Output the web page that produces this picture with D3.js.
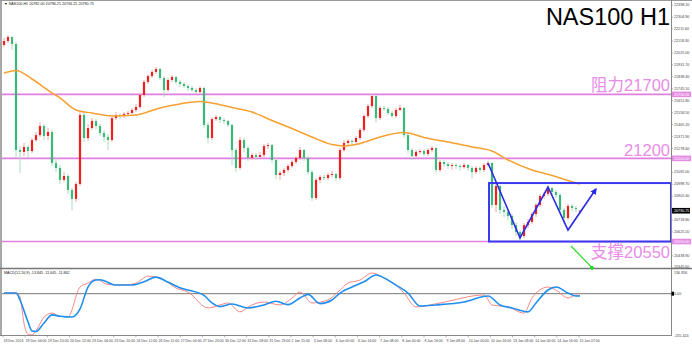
<!DOCTYPE html>
<html><head><meta charset="utf-8">
<script src="https://cdn.jsdelivr.net/npm/d3@7"></script>
<style>
body{margin:0;background:#fff;}
svg{display:block;font-family:"Liberation Sans",Arial,"Noto Sans CJK SC",sans-serif;}
</style>
</head><body>
<svg id="c" width="692" height="346"></svg>
<script>
// ---------- DATA ----------
const openP=[22086,22117,22148,22094,21265,21250,21289,21257,21343,21382,21453,21375,21406,21164,21125,21031,21062,20953,20883,21000,
21539,21359,21437,21492,21453,21398,21367,21343,21515,21539,21531,21547,21554,21578,21601,21695,21797,21843,21875,21898,
21828,21734,21812,21836,21797,21781,21765,21750,21734,21718,21750,21461,21359,21507,21523,21500,21492,21461,21265,21125,
21343,21281,21203,21226,21211,21226,21296,21304,21187,21070,21086,21109,21140,21172,21203,21265,21203,21093,20890,21031,
21054,21046,21070,21078,21046,21265,21320,21336,21328,21359,21422,21531,21609,21687,21515,21594,21586,21554,21531,21578,
21594,21382,21265,21218,21250,21257,21234,21265,21281,21109,21172,21156,21140,21148,21140,21132,21148,21125,21093,21125,
21109,21148,21164,20836,20984,20797,20781,20750,20679,20625,20593,20679,20703,20765,20836,20906,20922,20968,20937,20914,
20797,20734,20828,20812,20782];
const highP=[22140,22164,22156,22109,21296,21320,21304,21359,21406,21484,21468,21437,21422,21203,21148,21093,21078,20968,21015,21562,
21554,21468,21515,21507,21468,21422,21390,21531,21562,21554,21562,21570,21594,21625,21711,21812,21859,21890,21914,21906,
21843,21828,21851,21843,21812,21797,21781,21765,21750,21765,21758,21484,21523,21539,21531,21515,21500,21468,21281,21367,
21359,21296,21242,21242,21250,21312,21320,21312,21203,21101,21125,21156,21187,21218,21289,21273,21218,21109,21046,21070,
21070,21086,21101,21086,21281,21343,21351,21351,21375,21437,21547,21625,21703,21695,21609,21609,21601,21570,21594,21617,
21601,21398,21281,21265,21273,21273,21281,21296,21289,21187,21187,21172,21164,21164,21156,21164,21156,21140,21140,21140,
21164,21179,21172,21007,20992,20828,20797,20765,20703,20640,20695,20726,20781,20851,20922,20937,20984,20976,20953,20929,
20812,20843,20843,20828,20796.25];
const lowP=[22070,22101,22047,21203,21086,21218,21203,21242,21328,21367,21343,21343,21140,21093,21000,21015,20922,20797,20859,20984,
21328,21336,21422,21422,21375,21328,21265,21328,21500,21507,21515,21531,21547,21562,21586,21679,21781,21828,21859,21812,
21679,21718,21797,21781,21758,21750,21726,21718,21703,21711,21437,21320,21343,21492,21476,21468,21445,21148,21093,21109,
21250,21179,21187,21187,21203,21211,21273,21164,21039,21031,21062,21093,21125,21156,21187,21179,21070,20867,20875,21007,
21031,21031,21054,21023,21031,21250,21296,21304,21312,21343,21406,21515,21594,21484,21500,21570,21539,21515,21515,21570,
21359,21242,21187,21203,21234,21218,21218,21250,21086,21093,21132,21117,21109,21117,21101,21117,21101,21046,21078,21086,
21093,21132,20812,20781,20765,20742,20718,20648,20593,20562,20578,20656,20687,20742,20820,20883,20906,20914,20890,20773,
20687,20718,20789,20781,20766.25];
const closeP=[22117,22148,22094,21265,21250,21289,21257,21343,21382,21453,21375,21406,21164,21125,21031,21062,20953,20883,21000,21539,
21359,21437,21492,21453,21398,21367,21343,21515,21539,21531,21547,21554,21578,21601,21695,21797,21843,21875,21898,21828,
21734,21812,21836,21797,21781,21765,21750,21734,21718,21750,21461,21359,21507,21523,21500,21492,21461,21265,21125,21343,
21281,21203,21226,21211,21226,21296,21304,21187,21070,21086,21109,21140,21172,21203,21265,21203,21093,20890,21031,21054,
21046,21070,21078,21046,21265,21320,21336,21328,21359,21422,21531,21609,21687,21515,21594,21586,21554,21531,21578,21594,
21382,21265,21218,21250,21257,21234,21265,21281,21109,21172,21156,21140,21148,21140,21132,21148,21125,21093,21125,21109,
21148,21164,20836,20984,20797,20781,20750,20679,20625,20593,20679,20703,20765,20836,20906,20922,20968,20937,20914,20797,
20734,20828,20812,20804,20790.75];

// moving average: [bar index, value]
const maLine=[[0,21867],[3,21887],[7,21820],[12,21711],[14,21672],[18,21578],[22,21554],[27,21531],[33,21539],[39,21594],
[44,21625],[49,21644],[52,21633],[57,21597],[62,21562],[67,21496],[72,21433],[77,21367],[82,21308],[85,21297],[88,21308],
[91,21336],[94,21367],[100,21402],[105,21363],[111,21328],[117,21289],[122,21257],[126,21187],[132,21109],[137,21066],
[141,21027],[144,21000]];

// MACD lines: [bar index, value]
const macdBlue=[[0,4],[3,4],[4,-38],[6,-170],[7,-225],[8,-228],[10,-177],[12,-128],[14,-136],[17,-141],[19,-92],[21,40],
[23,83],[24,84],[28,52],[32,52],[35,72],[38,100],[41,70],[44,36],[46,22],[50,-10],[52,-56],[54,-78],[57,-62],[61,-86],
[65,-68],[68,-46],[71,-66],[74,-26],[76,-4],[79,-60],[82,-38],[84,4],[87,40],[90,72],[93,113],[96,82],[98,52],[101,4],
[104,-74],[108,-68],[115,-50],[121,-14],[124,-68],[127,-86],[131,-110],[133,-56],[136,22],[138,40],[141,4],[143,-14],[144,-14]];
const macdRed=[[0,4],[3,4],[4,-20],[5,-180],[6,-245],[7,-249],[8,-225],[10,-141],[12,-117],[14,-137],[16,-139],[19,40],
[21,64],[23,88],[26,55],[30,52],[33,64],[36,106],[40,82],[43,34],[46,10],[51,-86],[54,-68],[56,-56],[59,-110],[61,-80],
[65,-50],[69,-68],[72,-26],[74,10],[77,-56],[81,-38],[84,22],[86,64],[89,82],[92,125],[95,94],[98,52],[100,4],[103,-80],
[109,-56],[120,-8],[122,-68],[126,-80],[130,-117],[132,-26],[136,40],[138,22],[141,-26],[143,-8],[144,-12]];

const priceTicks=[20345.60,20438.90,20532.20,20625.50,20718.80,20812.10,20905.40,20998.70,21092.00,21185.30,21278.60,
21371.90,21465.20,21558.50,21651.80,21745.10,21838.40,21931.70,22025.00,22118.30,22211.60,22304.90,22398.20];
const macdTicks=[136.956,0,-255.424];
const timeLabels=["18 Dec 2024","19 Dec 04:00","19 Dec 20:00","20 Dec 12:00","23 Dec 04:00","23 Dec 20:00","24 Dec 12:00",
"26 Dec 11:00","27 Dec 04:00","27 Dec 20:00","30 Dec 12:00","31 Dec 08:00","31 Dec 23:00","2 Jan 15:00","3 Jan 08:00",
"6 Jan 00:00","6 Jan 16:00","7 Jan 08:00","8 Jan 00:00","8 Jan 16:00","9 Jan 08:00","10 Jan 00:00","10 Jan 16:00",
"13 Jan 08:00","14 Jan 00:00","14 Jan 16:00","15 Jan 07:00"];

const levels=[21700,21200,20550];
const levelTexts=["阻力21700","21200","支撑20550"];
const lastPrice=20790.75;
const wPattern=[[121,21164],[129,20578],[136,20976],[141,20640],[148,20960]];
const boxBars=[121.25,166.75];
const boxPrices=[21007,20550];
const downArrow=[[141.75,20515],[147,20346]];
const headerText="▼ NAS100,H1  20782.00 20796.25 20766.25 20790.75";
const macdHeader="MACD(12,26,9) -13.845 -11.645 -11.862";
const titleText="NAS100 H1";

// ---------- CHART ----------
const svg=d3.select("#c");
const W=692,H=346, axisX=671, mainTop=1, mainBot=268, macdTop=269, macdBot=335;
const FS=3.7;
const x=d3.scaleLinear().domain([0,144]).range([4,580]);
const y=d3.scaleLinear().domain([20345.6,22398.2]).range([267.7,5]);
const ym=d3.scaleLinear().domain([-255.424,136.956]).range([336,271]);
const xt=d3.scalePoint().domain(timeLabels).range([3,579]);

const defs=svg.append("defs");
defs.append("clipPath").attr("id","cm").append("rect").attr("x",2).attr("y",mainTop).attr("width",axisX-2).attr("height",mainBot-mainTop);
defs.append("clipPath").attr("id","cd").append("rect").attr("x",2).attr("y",macdTop).attr("width",axisX-2).attr("height",macdBot-macdTop);
defs.append("marker").attr("id","ab").attr("viewBox","0 0 10 10").attr("refX",8).attr("refY",5)
  .attr("markerWidth",4).attr("markerHeight",4).attr("orient","auto")
  .append("path").attr("d","M0,0L10,5L0,10z").attr("fill","#2a2ae8");
defs.append("marker").attr("id","ag").attr("viewBox","0 0 10 10").attr("refX",5).attr("refY",5)
  .attr("markerWidth",3).attr("markerHeight",3).attr("orient","auto")
  .append("rect").attr("width",10).attr("height",10).attr("fill","#22dd22");

// frame
svg.append("rect").attr("x",0).attr("y",0).attr("width",W).attr("height",H).attr("fill","#fff");
svg.append("rect").attr("x",0).attr("y",0).attr("width",2).attr("height",macdBot).attr("fill","#a8a8a8");
svg.append("line").attr("x1",0).attr("x2",W).attr("y1",0.5).attr("y2",0.5).attr("stroke","#999");
svg.append("line").attr("x1",axisX+0.5).attr("x2",axisX+0.5).attr("y1",0).attr("y2",macdBot+1).attr("stroke","#888");
svg.append("line").attr("x1",0).attr("x2",W).attr("y1",mainBot+0.5).attr("y2",mainBot+0.5).attr("stroke","#777").attr("stroke-width",1.6);
svg.append("line").attr("x1",0).attr("x2",axisX+1).attr("y1",macdBot+0.5).attr("y2",macdBot+0.5).attr("stroke","#888");

const gm=svg.append("g").attr("clip-path","url(#cm)");
const lineCol="#e07fe0";
gm.selectAll("line.lv").data(levels).join("line").attr("class","lv")
  .attr("x1",2).attr("x2",axisX).attr("y1",d=>y(d)).attr("y2",d=>y(d))
  .attr("stroke",lineCol).attr("stroke-width",1.6);

// candles
const idx=d3.range(closeP.length);
const up=i=>closeP[i]>=openP[i];
gm.selectAll("line.wick").data(idx).join("line").attr("class","wick")
  .attr("x1",i=>x(i)).attr("x2",i=>x(i)).attr("y1",i=>y(highP[i])).attr("y2",i=>y(lowP[i]))
  .attr("stroke",i=>up(i)?"#f6a3a3":"#a9dcc0").attr("stroke-width",1);
gm.selectAll("rect.body").data(idx).join("rect").attr("class","body")
  .attr("x",i=>x(i)-1.1).attr("width",2.2)
  .attr("y",i=>Math.min(y(openP[i]),y(closeP[i])))
  .attr("height",i=>Math.max(1,Math.abs(y(openP[i])-y(closeP[i]))))
  .attr("fill",i=>up(i)?"#f01f1f":"#3cb878");

// MA
gm.append("path").datum(maLine).attr("fill","none").attr("stroke","#f7a030").attr("stroke-width",1.5)
  .attr("d",d3.line().x(d=>x(d[0])).y(d=>y(d[1])).curve(d3.curveMonotoneX));

// box
gm.append("rect").attr("x",x(boxBars[0])).attr("y",y(boxPrices[0]))
  .attr("width",x(boxBars[1])-x(boxBars[0])).attr("height",y(boxPrices[1])-y(boxPrices[0]))
  .attr("fill","none").attr("stroke","#3a3af0").attr("stroke-width",2);
gm.append("path").datum(wPattern).attr("fill","none").attr("stroke","#2a2ae8").attr("stroke-width",1.6)
  .attr("marker-end","url(#ab)")
  .attr("d",d3.line().x(d=>x(d[0])).y(d=>y(d[1])));
svg.append("path").datum(downArrow).attr("fill","none").attr("stroke","#22dd22").attr("stroke-width",1.2)
  .attr("marker-end","url(#ag)")
  .attr("d",d3.line().x(d=>x(d[0])).y(d=>y(d[1])));

// level texts
const ltY=[y(levels[0])-3,y(levels[1])-2,y(levels[2])+16];
svg.selectAll("text.lt").data(levelTexts).join("text").attr("class","lt")
  .attr("x",axisX-1).attr("y",(d,i)=>ltY[i]).attr("text-anchor","end")
  .attr("font-size",16.5).attr("fill","#e88ce8").text(d=>d);

// title
svg.append("text").attr("x",axisX-1).attr("y",25).attr("text-anchor","end")
  .attr("font-size",23.5).attr("fill","#000").text(titleText);
svg.append("text").attr("x",4).attr("y",5).attr("font-size",FS).attr("fill","#222").text(headerText);

// right price axis
const hl=[...levels,lastPrice];
const ticksShown=priceTicks.filter(t=>hl.every(h=>Math.abs(y(h)-y(t))>4.5));
svg.selectAll("text.pt").data(ticksShown).join("text").attr("class","pt")
  .attr("x",axisX+3).attr("y",d=>Math.min(y(d)+1.3,267.6)).attr("font-size",FS).attr("fill","#444").text(d=>d.toFixed(2));
svg.selectAll("line.ptk").data(ticksShown).join("line").attr("class","ptk")
  .attr("x1",axisX).attr("x2",axisX+2).attr("y1",d=>y(d)).attr("y2",d=>y(d)).attr("stroke","#888").attr("stroke-width",0.6);
svg.selectAll("rect.hlb").data(levels).join("rect").attr("class","hlb")
  .attr("x",axisX+1).attr("y",d=>y(d)-2.8).attr("width",19).attr("height",5.6).attr("fill","#e58be5");
svg.selectAll("text.hlt").data(levels).join("text").attr("class","hlt")
  .attr("x",axisX+3).attr("y",d=>y(d)+1.3).attr("font-size",FS).attr("fill","#fff").text(d=>d.toFixed(2));
svg.append("rect").attr("x",axisX+1).attr("y",y(lastPrice)-2.8).attr("width",18).attr("height",5.6).attr("fill","#000");
svg.append("text").attr("x",axisX+3).attr("y",y(lastPrice)+1.3).attr("font-size",FS).attr("fill","#fff").text(lastPrice.toFixed(2));

// MACD panel
const gd=svg.append("g").attr("clip-path","url(#cd)");
gd.append("line").attr("x1",2).attr("x2",axisX).attr("y1",ym(0)).attr("y2",ym(0)).attr("stroke","#777").attr("stroke-width",1);
gd.append("path").datum(macdRed).attr("fill","none").attr("stroke","#f57a7a").attr("stroke-width",0.9)
  .attr("d",d3.line().x(d=>x(d[0])).y(d=>ym(d[1])).curve(d3.curveMonotoneX));
gd.append("path").datum(macdBlue).attr("fill","none").attr("stroke","#1e8ff0").attr("stroke-width",1.6)
  .attr("d",d3.line().x(d=>x(d[0])).y(d=>ym(d[1])).curve(d3.curveMonotoneX));
svg.append("text").attr("x",4).attr("y",274).attr("font-size",FS).attr("fill","#222").text(macdHeader);
svg.selectAll("text.mt").data(macdTicks).join("text").attr("class","mt")
  .attr("x",axisX+3).attr("y",d=>d>100?273.8:Math.min(ym(d)+1.3,338)).attr("font-size",FS).attr("fill","#444")
  .text(d=>d===0?"0.00":d.toFixed(3));
svg.append("rect").attr("x",axisX+0.5).attr("y",ym(0)-2).attr("width",2.5).attr("height",4).attr("fill","#000");

// time axis
svg.selectAll("line.tt").data(timeLabels).join("line").attr("class","tt")
  .attr("x1",d=>xt(d)).attr("x2",d=>xt(d)).attr("y1",macdBot).attr("y2",macdBot+2.5).attr("stroke","#888").attr("stroke-width",0.6);
svg.selectAll("text.tl").data(timeLabels).join("text").attr("class","tl")
  .attr("x",d=>xt(d)+0.5).attr("y",342).attr("font-size",3.5).attr("fill","#444").text(d=>d);
</script>
</body></html>
